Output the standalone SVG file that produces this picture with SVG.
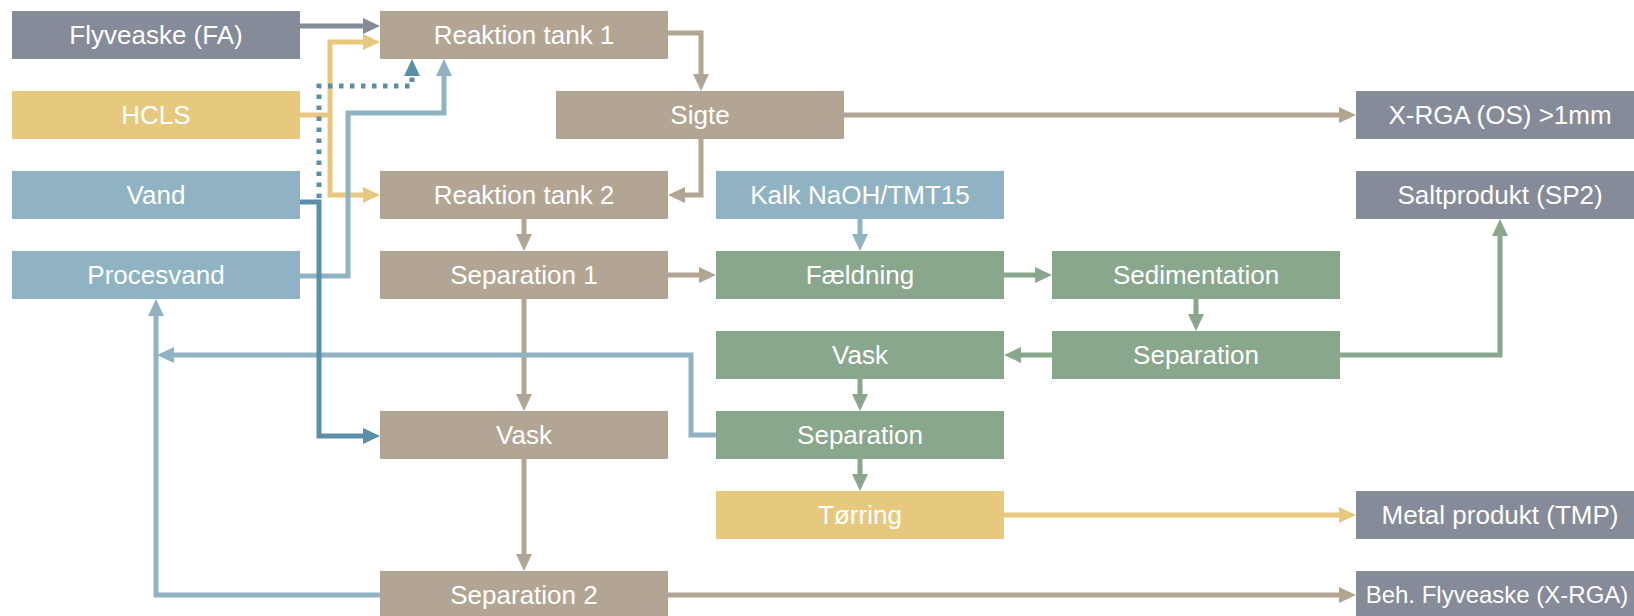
<svg xmlns="http://www.w3.org/2000/svg" width="1634" height="616" viewBox="0 0 1634 616">
<style>
.box text{font-family:"Liberation Sans",Arial,sans-serif;font-size:26px;fill:#ffffff;text-anchor:middle}
.gray{fill:#858b98}.tan{fill:#b3a593}.yel{fill:#e6c87f}.blu{fill:#8fb3c3}.grn{fill:#89a78d}
.c{fill:none;stroke-width:5;stroke-linejoin:miter;stroke-linecap:butt}
.cg{stroke:#858b98}.ct{stroke:#b3a593}.cy{stroke:#e6c87f}.cb{stroke:#8fb3c3}.cn{stroke:#89a78d}.cd{stroke:#5a8fa8}
.dot{stroke-dasharray:4.5 6.5}
</style>
<defs>
<marker id="mg" markerUnits="userSpaceOnUse" markerWidth="17" markerHeight="16" viewBox="0 0 17 16" refX="9" refY="8" orient="auto"><path d="M0,0 L17,8 L0,16 z" fill="#858b98"/></marker>
<marker id="mt" markerUnits="userSpaceOnUse" markerWidth="17" markerHeight="16" viewBox="0 0 17 16" refX="9" refY="8" orient="auto"><path d="M0,0 L17,8 L0,16 z" fill="#b3a593"/></marker>
<marker id="my" markerUnits="userSpaceOnUse" markerWidth="17" markerHeight="16" viewBox="0 0 17 16" refX="9" refY="8" orient="auto"><path d="M0,0 L17,8 L0,16 z" fill="#e6c87f"/></marker>
<marker id="mb" markerUnits="userSpaceOnUse" markerWidth="17" markerHeight="16" viewBox="0 0 17 16" refX="9" refY="8" orient="auto"><path d="M0,0 L17,8 L0,16 z" fill="#8fb3c3"/></marker>
<marker id="mn" markerUnits="userSpaceOnUse" markerWidth="17" markerHeight="16" viewBox="0 0 17 16" refX="9" refY="8" orient="auto"><path d="M0,0 L17,8 L0,16 z" fill="#89a78d"/></marker>
<marker id="md" markerUnits="userSpaceOnUse" markerWidth="17" markerHeight="16" viewBox="0 0 17 16" refX="9" refY="8" orient="auto"><path d="M0,0 L17,8 L0,16 z" fill="#5a8fa8"/></marker>
</defs>
<rect width="1634" height="616" fill="#ffffff"/>

<g id="nodes">
<g id="flyveaske" class="box"><rect class="gray" x="12" y="11" width="288" height="48"/><text x="156" y="44">Flyveaske (FA)</text></g>
<g id="hcls" class="box"><rect class="yel" x="12" y="91" width="288" height="48"/><text x="156" y="124">HCLS</text></g>
<g id="vand" class="box"><rect class="blu" x="12" y="171" width="288" height="48"/><text x="156" y="204">Vand</text></g>
<g id="procesvand" class="box"><rect class="blu" x="12" y="251" width="288" height="48"/><text x="156" y="284">Procesvand</text></g>
<g id="tank1" class="box"><rect class="tan" x="380" y="11" width="288" height="48"/><text x="524" y="44">Reaktion tank 1</text></g>
<g id="sigte" class="box"><rect class="tan" x="556" y="91" width="288" height="48"/><text x="700" y="124">Sigte</text></g>
<g id="tank2" class="box"><rect class="tan" x="380" y="171" width="288" height="48"/><text x="524" y="204">Reaktion tank 2</text></g>
<g id="separation1" class="box"><rect class="tan" x="380" y="251" width="288" height="48"/><text x="524" y="284">Separation 1</text></g>
<g id="vask1" class="box"><rect class="tan" x="380" y="411" width="288" height="48"/><text x="524" y="444">Vask</text></g>
<g id="separation2" class="box"><rect class="tan" x="380" y="571" width="288" height="48"/><text x="524" y="604">Separation 2</text></g>
<g id="kalk" class="box"><rect class="blu" x="716" y="171" width="288" height="48"/><text x="860" y="204">Kalk NaOH/TMT15</text></g>
<g id="faeldning" class="box"><rect class="grn" x="716" y="251" width="288" height="48"/><text x="860" y="284">Fældning</text></g>
<g id="vask2" class="box"><rect class="grn" x="716" y="331" width="288" height="48"/><text x="860" y="364">Vask</text></g>
<g id="separation3" class="box"><rect class="grn" x="716" y="411" width="288" height="48"/><text x="860" y="444">Separation</text></g>
<g id="torring" class="box"><rect class="yel" x="716" y="491" width="288" height="48"/><text x="860" y="524">Tørring</text></g>
<g id="sedimentation" class="box"><rect class="grn" x="1052" y="251" width="288" height="48"/><text x="1196" y="284">Sedimentation</text></g>
<g id="separation4" class="box"><rect class="grn" x="1052" y="331" width="288" height="48"/><text x="1196" y="364">Separation</text></g>
<g id="xrga" class="box"><rect class="gray" x="1356" y="91" width="288" height="48"/><text x="1500" y="124">X-RGA (OS) &gt;1mm</text></g>
<g id="saltprodukt" class="box"><rect class="gray" x="1356" y="171" width="288" height="48"/><text x="1500" y="204">Saltprodukt (SP2)</text></g>
<g id="metal" class="box"><rect class="gray" x="1356" y="491" width="288" height="48"/><text x="1500" y="524">Metal produkt (TMP)</text></g>
<g id="beh" class="box"><rect class="gray" x="1356" y="571" width="288" height="48"/><text x="1497" y="603" style="font-size:24px">Beh. Flyveaske (X-RGA)</text></g>
</g>

<g id="connectors">
<path class="c ct" d="M668,33 H701 V83" marker-end="url(#mt)"/>
<path class="c ct" d="M701,139 V195 H676" marker-end="url(#mt)"/>
<path class="c ct" d="M844,115 H1348" marker-end="url(#mt)"/>
<path class="c ct" d="M524,219 V243" marker-end="url(#mt)"/>
<path class="c ct" d="M668,275 H708" marker-end="url(#mt)"/>
<path class="c ct" d="M524,299 V403" marker-end="url(#mt)"/>
<path class="c ct" d="M524,459 V563" marker-end="url(#mt)"/>
<path class="c ct" d="M668,595 H1348" marker-end="url(#mt)"/>
<path class="c cn" d="M1004,275 H1044" marker-end="url(#mn)"/>
<path class="c cn" d="M1196,299 V323" marker-end="url(#mn)"/>
<path class="c cn" d="M1052,355 H1012" marker-end="url(#mn)"/>
<path class="c cn" d="M1340,355 H1500 V227" marker-end="url(#mn)"/>
<path class="c cn" d="M860,379 V403" marker-end="url(#mn)"/>
<path class="c cn" d="M860,459 V483" marker-end="url(#mn)"/>
<path class="c cy" d="M1004,515 H1348" marker-end="url(#my)"/>
<path class="c cg" d="M300,26 H372" marker-end="url(#mg)"/>
<path class="c cy" d="M300,115 H330 V42 H372" marker-end="url(#my)"/>
<path class="c cy" d="M330,115 V195 H372" marker-end="url(#my)"/>
<path class="c cb" d="M860,219 V243" marker-end="url(#mb)"/>
<path class="c cb" d="M300,276 H348 V113 H444 V67" marker-end="url(#mb)"/>
<path class="c cb" d="M716,435 H691 V355 H165" marker-end="url(#mb)"/>
<path class="c cb" d="M380,595 H156 V307" marker-end="url(#mb)"/>
<path class="c cd" d="M300,202 H319 V436 H372" marker-end="url(#md)"/>
<path class="c cd dot" d="M319,198 V86 H412 V67" marker-end="url(#md)"/>
</g>
</svg>
